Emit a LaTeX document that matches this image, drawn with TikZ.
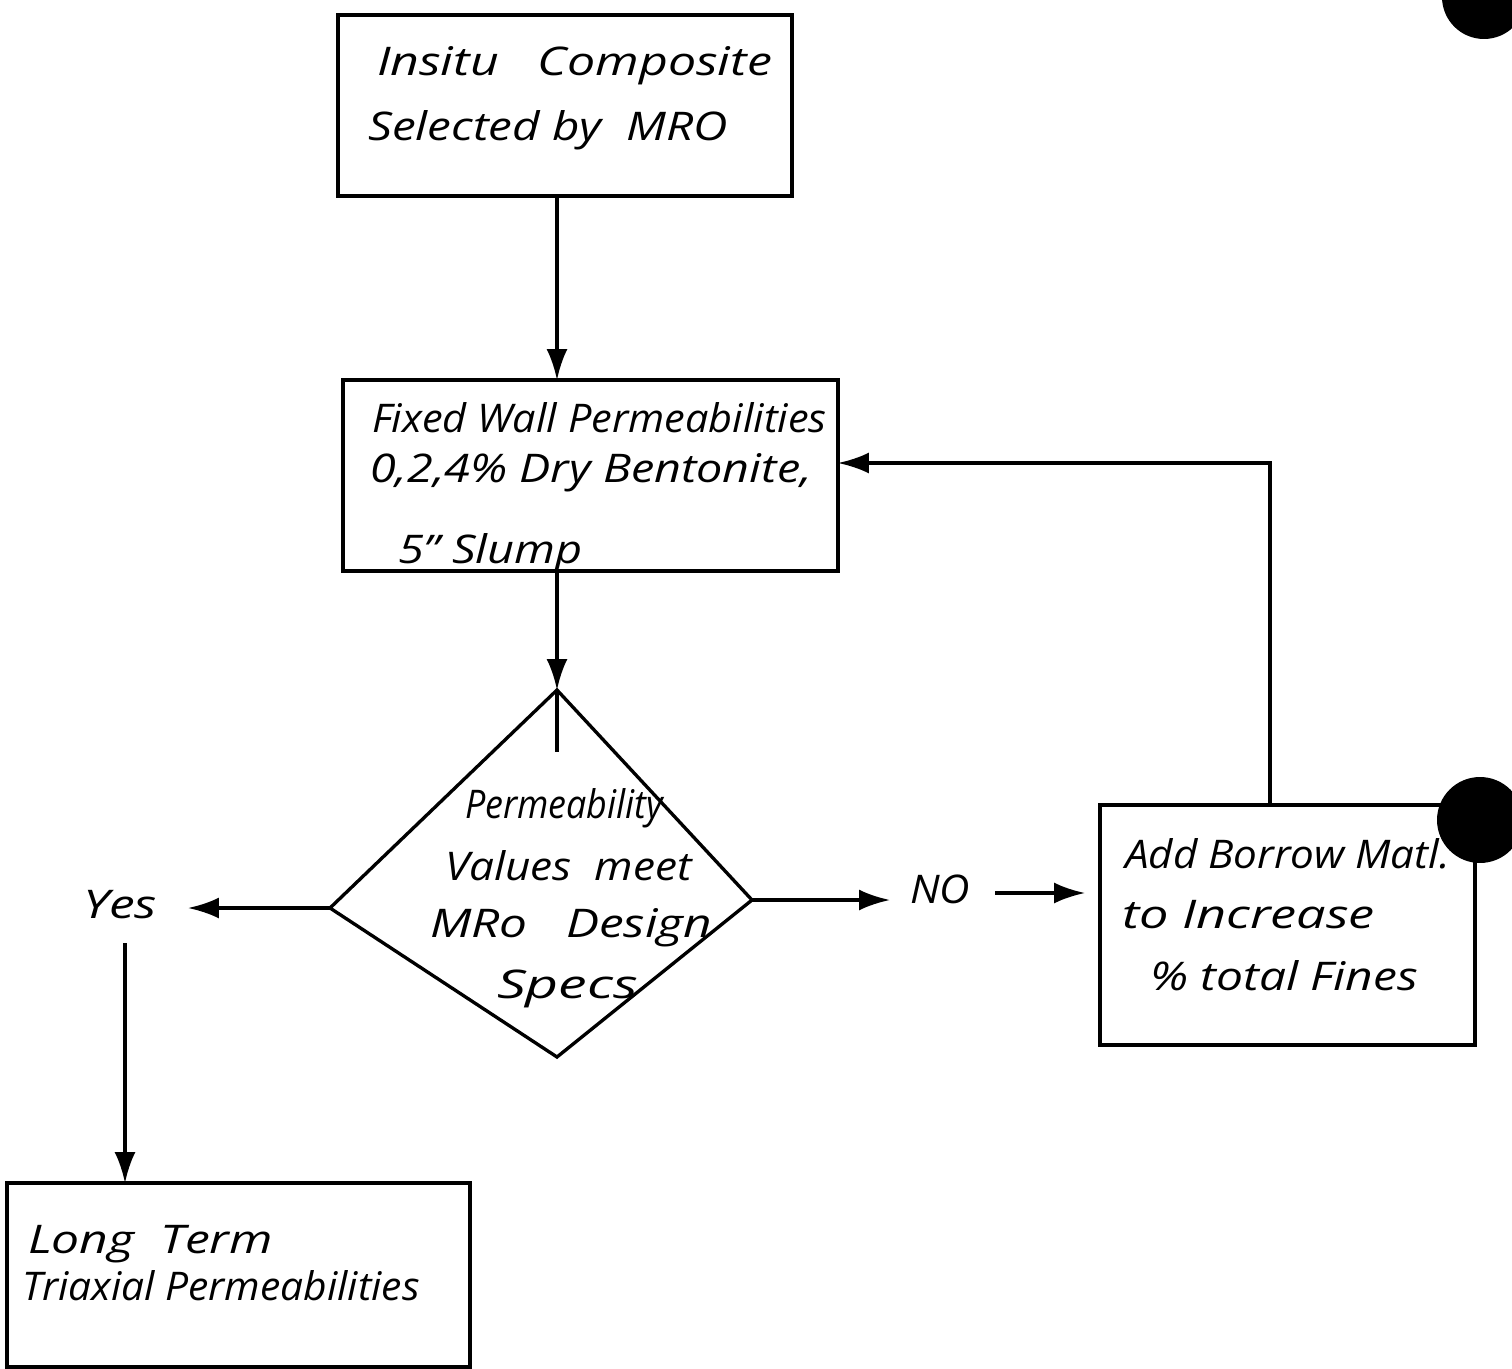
\documentclass[tikz,border=0pt]{standalone}
\usepackage{fontspec}
\setmainfont{Open Sans}
\usepackage{graphicx}
\usetikzlibrary{arrows.meta}
\newcommand{\hw}[2]{\resizebox{#1cm}{0.6cm}{\itshape\rule{0pt}{0.76em}#2}}
\begin{document}
\begin{tikzpicture}[x=0.02cm,y=-0.02cm, line width=1.9pt,
  box/.style={draw, rectangle, inner sep=0pt, outer sep=0pt},
  txt/.style={anchor=base west, inner sep=0pt, outer sep=0pt},
  arr/.style={-{Latex[length=0.62cm,width=0.42cm]}}]
\useasboundingbox (0,0) rectangle (1512,1369);

% boxes
\node[box, minimum width=9.08cm, minimum height=3.62cm] (b1) at (565,105.5) {};
\node[box, minimum width=9.9cm, minimum height=3.82cm] (b2) at (590.5,475.5) {};
\node[box, minimum width=7.5cm, minimum height=4.8cm] (b3) at (1287.5,925) {};
\node[box, minimum width=9.26cm, minimum height=3.68cm] (b4) at (238.5,1275) {};

% diamond
\coordinate (dT) at (557,690);
\coordinate (dR) at (752,900);
\coordinate (dB) at (557,1057);
\coordinate (dL) at (330,908);
\coordinate (dS) at (557,752);
\draw (dT) -- (dR) -- (dB) -- (dL) -- cycle;

% texts
\node[txt] (t1a) at (377,75) {\hw{7.9}{Insitu\ \ \ Composite}};
\node[txt] (t1b) at (368,140) {\hw{7.2}{Selected\ by\ \ MRO}};
\node[txt] (t2a) at (372,432) {\hw{9.1}{Fixed\ Wall\ Permeabilities}};
\node[txt] (t2b) at (370,482) {\hw{8.84}{0,2,4\%\ Dry\ Bentonite,}};
\node[txt] (t2c) at (398,563) {\hw{3.7}{5"\ Slump}};
\node[txt] (t3a) at (465,818) {\hw{3.96}{Permeability}};
\node[txt] (t3b) at (445,880) {\hw{4.94}{Values\ \ meet}};
\node[txt] (t3c) at (430,937) {\hw{5.64}{MRo\ \ \ Design}};
\node[txt] (t3d) at (497,998) {\hw{2.82}{Specs}};
\node[txt] (yes) at (83,918) {\hw{1.48}{Yes}};
\node[txt] (no) at (910,903) {\hw{1.2}{NO}};
\node[txt] (t4a) at (1125,868) {\hw{6.5}{Add\ Borrow\ Matl.}};
\node[txt] (t4b) at (1122,928) {\hw{5.06}{to\ Increase}};
\node[txt] (t4c) at (1150,990) {\hw{5.36}{\%\ total\ Fines}};
\node[txt] (t5a) at (28,1253) {\hw{4.9}{Long\ \ Term}};
\node[txt] (t5b) at (22,1300) {\hw{7.96}{Triaxial\ Permeabilities}};

% connectors
\draw[arr] (b1.south -| dT) -- (b2.north -| dT);
\draw[arr] (b2.south -| dT) -- (dT);
\draw (dT) -- (dS);
\draw[arr, shorten >=0.62cm] (dL) -- (dL -| yes.east);
\coordinate (yx) at (125,943);
\draw[arr] (yx) -- (yx |- b4.north);
\draw[arr, shorten >=0.4cm] (dR) -- (dR -| no.west);
\coordinate (nx) at (995,893);
\draw[arr, shorten >=0.3cm] (nx) -- (nx -| b3.west);
\coordinate (fb) at (1270,463);
\draw[arr] (b3.north -| fb) -- (fb) -- (b2.east |- fb);

% punch holes
\begin{scope}
\clip (0,0) rectangle (1512,1369);
\fill (1484,-3) circle[radius=0.84cm];
\fill (1480,820) circle[radius=0.86cm];
\end{scope}
\end{tikzpicture}
\end{document}
